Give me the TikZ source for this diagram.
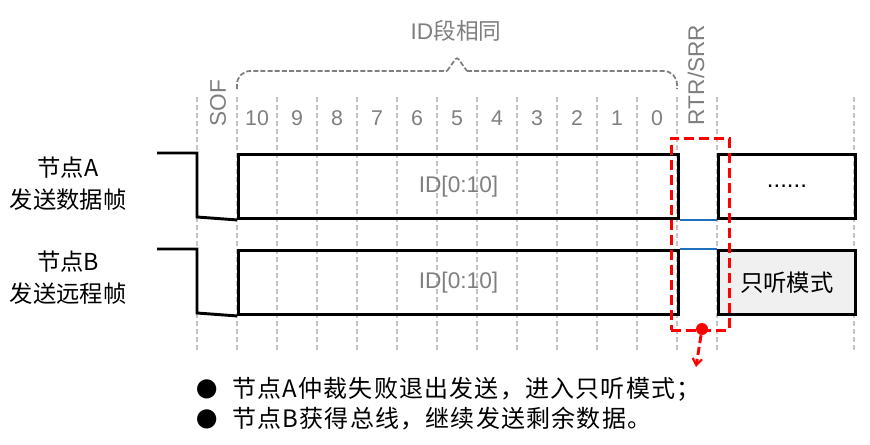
\documentclass[tikz,border=0pt]{standalone}
\usepackage{fontspec}
\setmainfont{Liberation Sans}
\newfontfamily\cjk{Noto Sans CJK SC}
\newfontfamily\cjksp[LetterSpace=5]{Noto Sans CJK SC}
\usetikzlibrary{arrows.meta}
\definecolor{gridc}{HTML}{C4C4C4}
\definecolor{lblc}{HTML}{7F7F7F}
\definecolor{bluec}{HTML}{1F6FBF}
\definecolor{mutec}{HTML}{F0F0F0}
\definecolor{redc}{HTML}{FF0000}
\tikzset{
  gridline/.style={draw=gridc, line width=1.1pt, dash pattern=on 3.75pt off 2.25pt},
  sigline/.style={draw=black, line width=2.2pt, line join=miter},
  framebox/.style={draw=black, line width=2.2pt, inner sep=0pt, anchor=north west, minimum height=48pt},
  graylbl/.style={text=lblc, font=\fontsize{16}{19}\selectfont, inner sep=0pt},
  cjklbl/.style={font=\cjk\fontsize{17.5}{24}\selectfont, align=center, inner sep=0pt},
  bluel/.style={draw=bluec, line width=1.8pt},
  reddash/.style={draw=redc, line width=2.2pt, dash pattern=on 7.5pt off 3.75pt},
  bracel/.style={draw=lblc, line width=1.3pt, dash pattern=on 3.75pt off 1.6pt},
}
\begin{document}
\begin{tikzpicture}[x=0.75pt,y=-0.75pt]
\useasboundingbox (0,0) rectangle (870,444);
% grid
\foreach \gx in {197,237,...,717,854} {
  \draw[gridline] (\gx,97) -- (\gx,350);
}
% brace
\coordinate (brL) at (237,89);
\coordinate (brR) at (677,89);
\coordinate (brP) at (457,57);
\draw[bracel, rounded corners=10pt] (brL) -- (237,71) -- (447,71);
\draw[bracel, rounded corners=2pt] (447,71) -- (brP) -- (467,71);
\draw[bracel, rounded corners=10pt] (467,71) -- (677,71) -- (brR);
\node[graylbl, font=\fontsize{17}{20}\selectfont] (idsame) at (456,31) {ID{\cjk 段相同}};
% bit labels
\node[graylbl, rotate=90, font=\fontsize{17}{20}\selectfont] (sof) at (218,103) {SOF};
\node[graylbl, rotate=90, font=\fontsize{17}{20}\selectfont] (rtr) at (696,75) {RTR/SRR};
\foreach \b [count=\i from 0] in {10,9,8,7,6,5,4,3,2,1,0} {
  \node[graylbl] (bit\b) at (257+40*\i,118) {\b};
}
% signal A
\node[framebox, minimum width=330pt, text=lblc, font=\fontsize{17}{20}\selectfont] (boxA) at (237,153) {ID[0:10]};
\coordinate (aStart) at (157,153);
\coordinate (aDrop) at (197,153);
\draw[sigline] (aStart) -- (aDrop) -- (197,217) -- (boxA.south west);
\node[framebox, minimum width=102.75pt, font=\fontsize{18}{20}\selectfont] (boxAdots) at (717,153) {......};
\draw[bluel] (boxA.south east) -- (boxAdots.south west);
% signal B
\node[framebox, minimum width=330pt, text=lblc, font=\fontsize{17}{20}\selectfont] (boxB) at (237,249) {ID[0:10]};
\coordinate (bStart) at (157,249);
\coordinate (bDrop) at (197,249);
\draw[sigline] (bStart) -- (bDrop) -- (197,313) -- (boxB.south west);
\node[framebox, minimum width=102.75pt, fill=mutec, font=\cjk\fontsize{17.5}{20}\selectfont] (boxBlisten) at (717,249) {只听模式};
\draw[bluel] (boxB.north east) -- (boxBlisten.north west);
% side labels
\node[cjklbl] (labA) at (68,184) {节点A\\发送数据帧};
\node[cjklbl] (labB) at (68,278) {节点B\\发送远程帧};
% red highlight
\node[reddash, inner sep=0pt, minimum width=43.5pt, minimum height=144pt, anchor=north west] (redbox) at (670,137) {};
\node[circle, fill=redc, inner sep=0pt, minimum size=9pt] (reddot) at (702,329) {};
\coordinate (redtip) at (696,367);
\draw[reddash, dash pattern=on 6pt off 3pt, -{Straight Barb[length=5pt,width=7pt,line width=1.6pt]}] (reddot) -- (redtip);
% bullets
\node[inner sep=0pt, font=\cjk\fontsize{16}{20}\selectfont] (bul1) at (207,389) {●};
\node[inner sep=0pt, font=\cjk\fontsize{16}{20}\selectfont] (bul2) at (207,419) {●};
\node[inner sep=0pt, anchor=west, font=\cjksp\fontsize{18}{20}\selectfont] (txt1) at (232,389) {节点A仲裁失败退出发送，进入只听模式；};
\node[inner sep=0pt, anchor=west, font=\cjksp\fontsize{18}{20}\selectfont] (txt2) at (232,419) {节点B获得总线，继续发送剩余数据。};
\end{tikzpicture}
\end{document}
